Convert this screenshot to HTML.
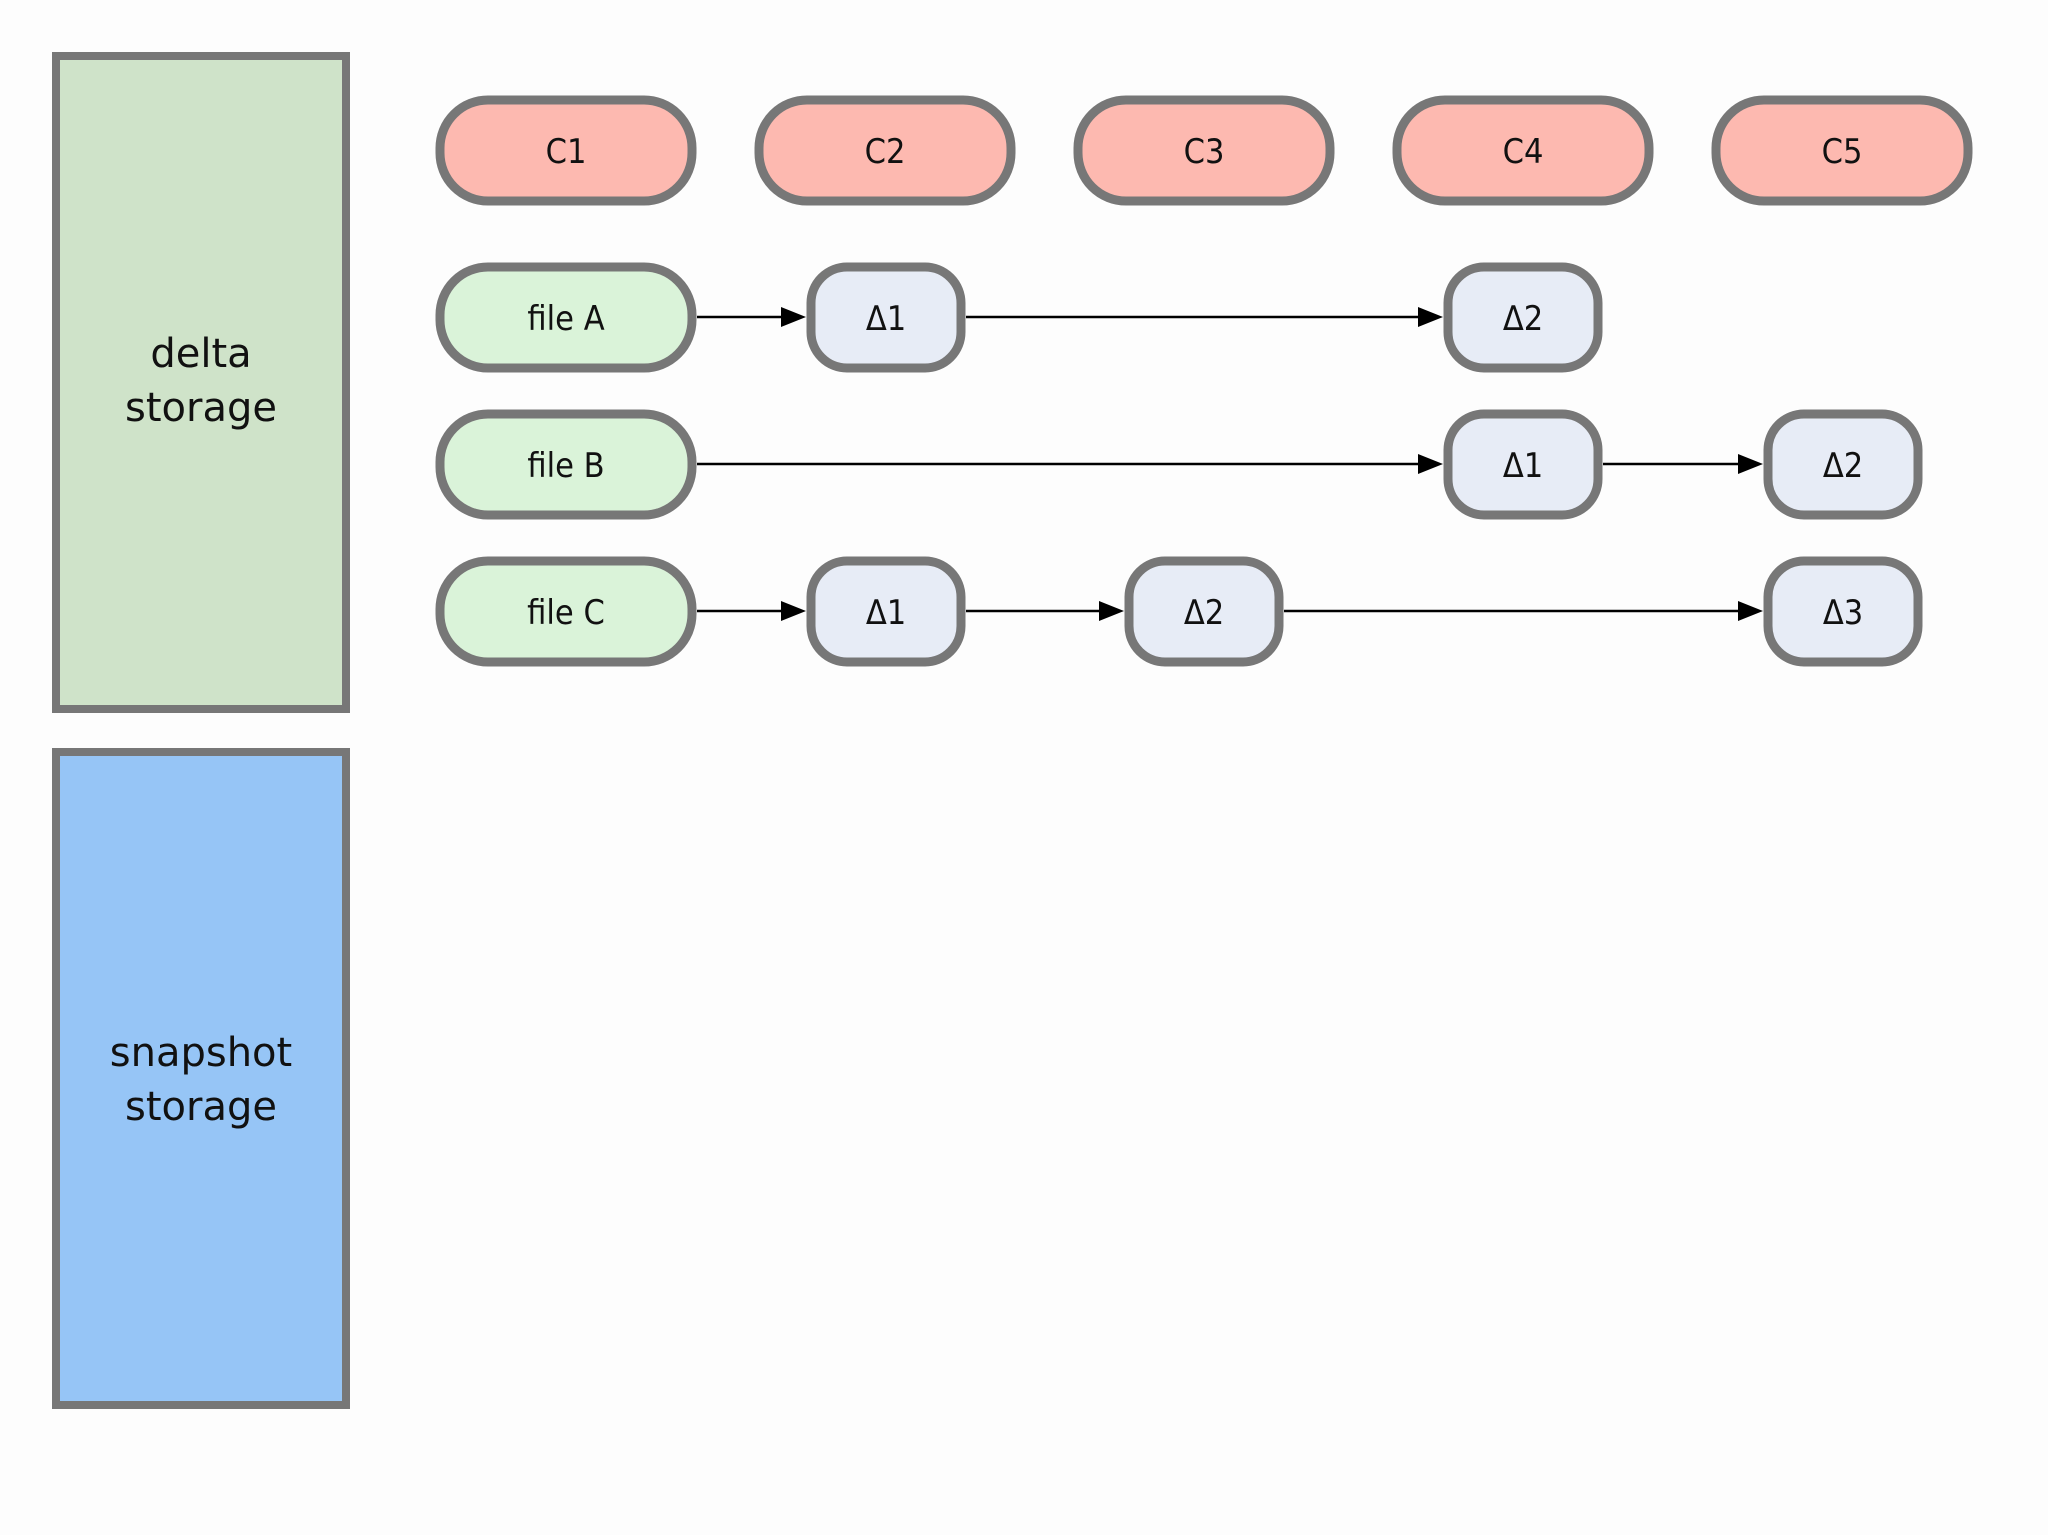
<!DOCTYPE html>
<html><head><meta charset="utf-8"><style>
html,body{margin:0;padding:0;background:#fdfdfd;}
svg{display:block;}
</style></head><body>
<svg width="2048" height="1535" viewBox="0 0 2048 1535" xmlns="http://www.w3.org/2000/svg">
<rect x="0" y="0" width="2048" height="1535" fill="#fdfdfd"/>
<rect x="56" y="56" width="290" height="653" fill="#cfe3c9" stroke="#777" stroke-width="8"/>
<rect x="56" y="752" width="290" height="653" fill="#96c5f6" stroke="#777" stroke-width="8"/>
<g font-family="DejaVu Sans, sans-serif" font-size="40" fill="#111" text-anchor="middle">
<text x="201" y="367">delta</text>
<text x="201" y="421">storage</text>
<text x="201" y="1066">snapshot</text>
<text x="201" y="1120">storage</text>
</g>
<g fill="#fdb9b0" stroke="#777" stroke-width="9">
<rect x="440" y="100" width="252" height="101" rx="48"/>
<rect x="759" y="100" width="252" height="101" rx="48"/>
<rect x="1078" y="100" width="252" height="101" rx="48"/>
<rect x="1397" y="100" width="252" height="101" rx="48"/>
<rect x="1716" y="100" width="252" height="101" rx="48"/>
</g>
<g fill="#daf3d9" stroke="#777" stroke-width="9">
<rect x="440" y="267" width="252" height="101" rx="48"/>
<rect x="440" y="414" width="252" height="101" rx="48"/>
<rect x="440" y="561" width="252" height="101" rx="48"/>
</g>
<g fill="#e7ecf6" stroke="#777" stroke-width="9">
<rect x="811" y="267" width="150" height="101" rx="36"/>
<rect x="1448" y="267" width="150" height="101" rx="36"/>
<rect x="1448" y="414" width="150" height="101" rx="36"/>
<rect x="1768" y="414" width="150" height="101" rx="36"/>
<rect x="811" y="561" width="150" height="101" rx="36"/>
<rect x="1129" y="561" width="150" height="101" rx="36"/>
<rect x="1768" y="561" width="150" height="101" rx="36"/>
</g>
<g stroke="#000" stroke-width="2.5">
<line x1="697" y1="317" x2="785" y2="317"/>
<line x1="966" y1="317" x2="1422" y2="317"/>
<line x1="697" y1="464" x2="1422" y2="464"/>
<line x1="1603" y1="464" x2="1742" y2="464"/>
<line x1="697" y1="611" x2="785" y2="611"/>
<line x1="966" y1="611" x2="1103" y2="611"/>
<line x1="1284" y1="611" x2="1742" y2="611"/>
</g>
<g fill="#000">
<polygon points="781,307 806,317 781,327"/>
<polygon points="1418,307 1443,317 1418,327"/>
<polygon points="1418,454 1443,464 1418,474"/>
<polygon points="1738,454 1763,464 1738,474"/>
<polygon points="781,601 806,611 781,621"/>
<polygon points="1099,601 1124,611 1099,621"/>
<polygon points="1738,601 1763,611 1738,621"/>
</g>
<g font-family="DejaVu Sans Condensed, DejaVu Sans, sans-serif" font-size="34" fill="#111" text-anchor="middle">
<text x="566" y="163">C1</text>
<text x="885" y="163">C2</text>
<text x="1204" y="163">C3</text>
<text x="1523" y="163">C4</text>
<text x="1842" y="163">C5</text>
<text x="566" y="330">file A</text>
<text x="566" y="477">file B</text>
<text x="566" y="624">file C</text>
<text x="886" y="330">Δ1</text>
<text x="1523" y="330">Δ2</text>
<text x="1523" y="477">Δ1</text>
<text x="1843" y="477">Δ2</text>
<text x="886" y="624">Δ1</text>
<text x="1204" y="624">Δ2</text>
<text x="1843" y="624">Δ3</text>
</g>
</svg>
</body></html>
